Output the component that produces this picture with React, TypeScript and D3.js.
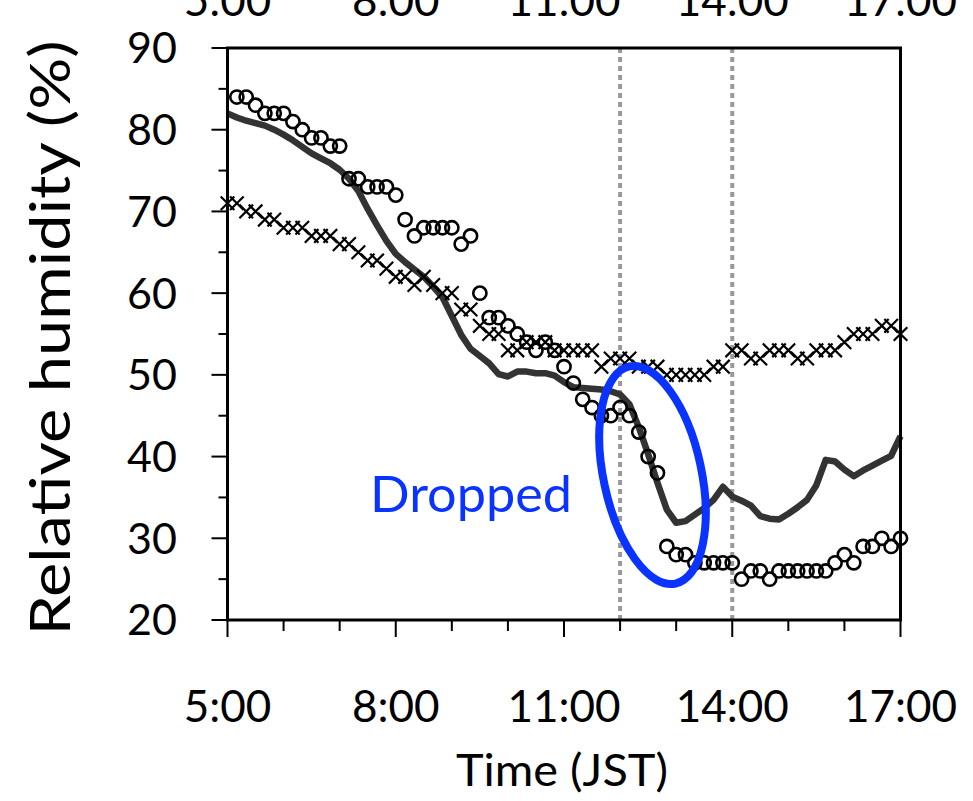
import React from "react";
import * as d3 from "d3";

// Time axis: 10-minute samples from 5:00 to 17:00 (hours since midnight)
const START_HOUR = 5;
const STEP_MIN = 10;

// Open circles (start at 5:10)
const circleStartIndex = 1;
const circleValues = [
  84, 84, 83, 82, 82, 82, 81, 80, 79, 79, 78, 78, 74, 74, 73, 73, 73, 72, 69, 67, 68, 68, 68, 68, 66, 67,
  60, 57, 57, 56, 55, 54, 53, 54, 53, 51, 49, 47, 46, 45, 45, 46, 45, 43, 40, 38,
  29, 28, 28, 27, 27, 27, 27, 27, 25, 26, 26, 25, 26, 26, 26, 26, 26, 26, 27, 28, 27, 29, 29, 30, 29, 30,
];

// Crosses (start at 5:00)
const crossValues = [
  71, 71, 70, 70, 69, 69, 68, 68, 68, 67, 67, 67, 66, 66, 65, 64, 64, 63, 62, 62,
  61, 62, 61, 60, 60, 58, 58, 56, 55, 55, 53, 53, 54, 54, 54, 53, 53, 53, 53, 53,
  51, 52, 52, 52, 51, 51, 51, 50, 50, 50, 50, 50, 51, 51, 53, 53, 52, 52, 53, 53,
  53, 52, 52, 53, 53, 53, 54, 55, 55, 55, 56, 56, 55,
];

// Solid line (start at 5:00)
const lineValues = [
  82, 81.5, 81.1, 80.8, 80.5, 80.0, 79.4, 78.7, 77.9, 77.1, 76.5, 75.9, 75.1, 74.0, 72.5, 70.3, 68.3, 66.4, 64.8, 63.8,
  62.9, 62.0, 60.8, 59.5, 57.2, 54.9, 53.2, 52.3, 51.4, 50.1, 49.8, 50.4, 50.4, 50.2, 50.2, 49.9, 49.1, 48.5, 48.4, 48.3,
  48.2, 48.0, 47.6, 46.4, 43.6, 40.3, 36.8, 33.5, 31.9, 32.1, 32.9, 33.7, 34.7, 36.3, 35.1, 34.6, 34.0, 32.7, 32.4, 32.3,
  33.0, 33.8, 34.7, 36.5, 39.6, 39.4, 38.4, 37.6, 38.3, 38.9, 39.5, 40.1, 42.5,
];

const xTickLabels = ["5:00", "8:00", "11:00", "14:00", "17:00"];
const xMajorHours = [5, 8, 11, 14, 17];
const xMinorHours = d3.range(5, 18, 1);
const yMajor = [20, 30, 40, 50, 60, 70, 80, 90];
const yMinor = d3.range(20, 91, 5);
const markerHours = [12, 14];

const timeOf = (i: number) => START_HOUR + (i * STEP_MIN) / 60;

const FONT = "Lato, 'Open Sans', sans-serif";
const BLUE = "#0a33ff";

export default function App() {
  const W = 973;
  const H = 801;
  const x = d3.scaleLinear().domain([5, 17]).range([227.5, 900.5]);
  const y = d3.scaleLinear().domain([20, 90]).range([620, 48]);

  const line = d3
    .line<number>()
    .x((_, i) => x(timeOf(i)))
    .y((v) => y(v));

  const circles = circleValues.map((v, k) => ({ t: timeOf(k + circleStartIndex), v }));
  const crosses = crossValues.map((v, i) => ({ t: timeOf(i), v }));
  const cs = 6.8;

  return (
    <svg
      width={W}
      height={H}
      style={{ position: "absolute", left: 0, top: 0, background: "#fff" }}
      fontFamily={FONT}
    >
      <rect width={W} height={H} fill="#fff" />

      {/* dotted vertical markers */}
      {markerHours.map((h) => (
        <line
          key={h}
          x1={x(h)}
          x2={x(h)}
          y1={y(90)}
          y2={y(20)}
          stroke="#999"
          strokeWidth={4}
          strokeDasharray="5 4"
        />
      ))}

      {/* solid line */}
      <path d={line(lineValues) || ""} fill="none" stroke="#333" strokeWidth={6.5} strokeLinejoin="round" />

      {/* crosses */}
      {crosses.map((d, i) => (
        <path
          key={"c" + i}
          d={`M${x(d.t) - cs},${y(d.v) - cs}L${x(d.t) + cs},${y(d.v) + cs}M${x(d.t) - cs},${y(d.v) + cs}L${x(d.t) + cs},${y(d.v) - cs}`}
          stroke="#000"
          strokeWidth={2.2}
          fill="none"
        />
      ))}

      {/* circles */}
      {circles.map((d, i) => (
        <circle key={"o" + i} cx={x(d.t)} cy={y(d.v)} r={6.6} fill="none" stroke="#000" strokeWidth={2.6} />
      ))}

      {/* frame */}
      <rect
        x={x(5)}
        y={y(90)}
        width={x(17) - x(5)}
        height={y(20) - y(90)}
        fill="none"
        stroke="#000"
        strokeWidth={3}
      />

      {/* y ticks */}
      {yMinor.map((v) => {
        const major = yMajor.includes(v);
        return (
          <line
            key={"yt" + v}
            x1={x(5) - (major ? 16 : 9)}
            x2={x(5)}
            y1={y(v)}
            y2={y(v)}
            stroke="#000"
            strokeWidth={2}
          />
        );
      })}
      {yMajor.map((v) => (
        <text key={"yl" + v} x={177} y={y(v)} dy="0.36em" textAnchor="end" fontSize={43} fill="#000">
          {v}
        </text>
      ))}

      {/* x ticks */}
      {xMinorHours.map((h) => {
        const major = xMajorHours.includes(h);
        return (
          <line
            key={"xt" + h}
            x1={x(h)}
            x2={x(h)}
            y1={y(20)}
            y2={y(20) + (major ? 17 : 11)}
            stroke="#000"
            strokeWidth={2}
          />
        );
      })}
      {xMajorHours.map((h, i) => (
        <text key={"xl" + h} x={x(h)} y={722} textAnchor="middle" fontSize={44} fill="#000">
          {xTickLabels[i]}
        </text>
      ))}
      {/* top copy of the time labels, cut by the top edge as in the original */}
      {xMajorHours.map((h, i) => (
        <text key={"xlt" + h} x={x(h)} y={16} textAnchor="middle" fontSize={44} fill="#000">
          {xTickLabels[i]}
        </text>
      ))}

      {/* axis titles */}
      <text
        x={562}
        y={786}
        textAnchor="middle"
        fontSize={45}
        fill="#000"
        textLength={212}
        lengthAdjust="spacingAndGlyphs"
      >
        Time (JST)
      </text>
      <text
        transform={`translate(70, ${338}) rotate(-90)`}
        textAnchor="middle"
        fontSize={56}
        fill="#000"
        textLength={595}
        lengthAdjust="spacingAndGlyphs"
      >
        Relative humidity (%)
      </text>

      {/* annotation */}
      <ellipse
        cx={652.5}
        cy={475}
        rx={49}
        ry={111}
        transform="rotate(-12 652.5 475)"
        fill="none"
        stroke={BLUE}
        strokeWidth={8}
      />
      <text
        x={471}
        y={512}
        textAnchor="middle"
        fontSize={50}
        fill={BLUE}
        textLength={202}
        lengthAdjust="spacingAndGlyphs"
      >
        Dropped
      </text>
    </svg>
  );
}
